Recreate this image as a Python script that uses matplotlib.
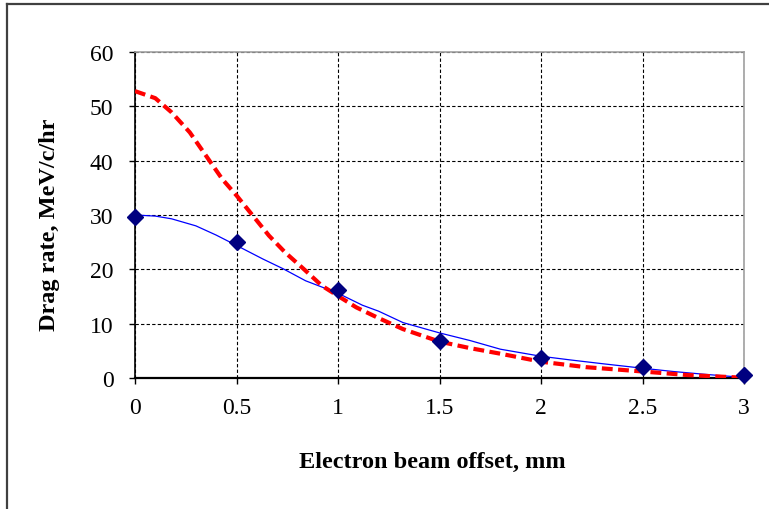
import matplotlib
matplotlib.use("Agg")
import matplotlib.pyplot as plt
from matplotlib.lines import Line2D

# measured points (diamonds)
offset_pts = [0, 0.5, 1.0, 1.5, 2.0, 2.5, 3.0]
drag_pts = [29.6, 25.0, 16.2, 6.9, 3.6, 2.0, 0.55]

# thin blue fitted curve
blue_x = [0, 0.1, 0.18, 0.3, 0.4, 0.5, 0.63, 0.73, 0.84, 1.0, 1.12, 1.2, 1.32,
          1.5, 1.65, 1.8, 2.0, 2.15, 2.31, 2.5, 2.65, 2.8, 3.0]
blue_y = [30.0, 29.8, 29.3, 28.0, 26.3, 24.4, 21.9, 20.1, 17.9, 15.6, 13.4, 12.3,
          10.2, 8.3, 6.9, 5.3, 4.0, 3.3, 2.6, 1.8, 1.2, 0.7, 0.1]

# thick red dashed model curve
red_x = [0, 0.1, 0.18, 0.27, 0.35, 0.43, 0.5, 0.58, 0.66, 0.74, 0.83, 0.92, 1.0,
         1.09, 1.19, 1.32, 1.5, 1.65, 1.81, 2.0, 2.22, 2.5, 2.72, 2.97, 3.0]
red_y = [52.8, 51.5, 48.9, 45.2, 40.9, 36.6, 33.6, 29.9, 26.2, 23.1, 20.1, 17.0,
         15.1, 13.0, 11.2, 9.0, 6.7, 5.5, 4.4, 3.0, 2.0, 1.2, 0.55, 0.1, 0.0]

xticks = [0, 0.5, 1, 1.5, 2, 2.5, 3]
xtick_labels = ["0", "0.5", "1", "1.5", "2", "2.5", "3"]
yticks = [0, 10, 20, 30, 40, 50, 60]

W, H = 769, 510
fig = plt.figure(figsize=(W / 100, H / 100), dpi=100, facecolor="white")
ax = fig.add_axes([135 / W, 1 - 379 / H, 609 / W, 326 / H])

SERIF = "Liberation Serif"

ax.plot(blue_x, blue_y, color="#0000FF", lw=0.9, zorder=3)
ax.plot(red_x, red_y, color="#FF0000", lw=3.0, dashes=(2.6, 1.3), zorder=4)
ax.plot(offset_pts, drag_pts, linestyle="none", marker="D", ms=8.5,
        color="#000080", clip_on=False, zorder=5)

ax.set_xlim(0, 3)
ax.set_ylim(0, 60)
ax.set_xticks(xticks)
ax.set_xticklabels(xtick_labels)
ax.set_yticks(yticks)

ax.grid(True, color="black", lw=0.8, linestyle=(0, (3, 2)))
ax.set_axisbelow(True)

for s in ("left", "bottom"):
    ax.spines[s].set_color("black")
ax.spines["left"].set_linewidth(1.2)
ax.spines["bottom"].set_linewidth(1.6)
for s in ("top", "right"):
    ax.spines[s].set_color("#A0A0A0")
    ax.spines[s].set_linewidth(1.2)

ax.tick_params(axis="y", direction="out", length=4.5, width=1.0, pad=11,
               labelsize=17)
ax.tick_params(axis="x", direction="out", length=4.5, width=1.0, pad=9,
               labelsize=17)
for lab in ax.get_xticklabels() + ax.get_yticklabels():
    lab.set_fontfamily(SERIF)

ax.set_xlabel("Electron beam offset, mm", fontfamily=SERIF, fontsize=17.5,
              fontweight="bold")
ax.xaxis.set_label_coords((432 - 135) / 609, (379 - 462) / 326)
ax.xaxis.label.set_va("center")
ax.set_ylabel("Drag rate, MeV/c/hr", fontfamily=SERIF, fontsize=17.5,
              fontweight="bold")
ax.yaxis.set_label_coords((50 - 135) / 609, (379 - 225) / 326)
ax.yaxis.label.set_va("center")

# chart-area border (only left and top edges are inside the image)
fig.add_artist(Line2D([7 / W, 7 / W], [1 - 5 / H, -0.1], color="#404040",
                      lw=1.6, transform=fig.transFigure))
fig.add_artist(Line2D([7 / W, 1.1], [1 - 5 / H, 1 - 5 / H], color="#404040",
                      lw=1.6, transform=fig.transFigure))

fig.savefig("out.png", dpi=100, facecolor="white")
